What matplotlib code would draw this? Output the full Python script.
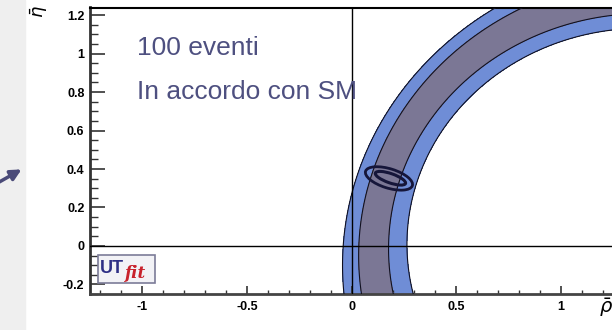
# Libraries import
import numpy as np
import matplotlib
matplotlib.use('Agg')
import matplotlib.pyplot as plt
from matplotlib.patches import Ellipse, Rectangle, FancyArrowPatch
from matplotlib.ticker import MultipleLocator

plt.rcParams['font.family'] = ['Liberation Sans', 'DejaVu Sans']

# Band boundaries (circle arcs):
# outer-left, inner-left, inner-right, outer-right
band_cx = [1.550, 1.488, 1.401, 1.389]
band_cy = [-0.101, -0.051, -0.015, 0.008]
band_r = [1.593, 1.454, 1.224, 1.124]

# 100-event fit contours: centre x, centre y, width, height, angle
fit_x = [0.179, 0.186]
fit_y = [0.351, 0.352]
fit_w = [0.236, 0.154]
fit_h = [0.100, 0.048]
fit_angle = [-19, -21]

x_ticks = [-1, -0.5, 0, 0.5, 1]
x_labels = ['-1', '-0.5', '0', '0.5', '1']
y_ticks = [-0.2, 0, 0.2, 0.4, 0.6, 0.8, 1, 1.2]
y_labels = ['-0.2', '0', '0.2', '0.4', '0.6', '0.8', '1', '1.2']

text_lines = ['100 eventi', 'In accordo con SM']

# Figure
fig = plt.figure(figsize=(6.12, 3.30), dpi=100)
fig.patch.set_facecolor('white')
fig.add_artist(Rectangle((0, 0), 25 / 612, 1, transform=fig.transFigure,
                         color='#efefef', zorder=0))

ax = fig.add_axes([90 / 612, 1 - 294 / 330, 1 - 90 / 612, 286.5 / 330])
ax.set_xlim(-1.25, 1.245)
ax.set_ylim(-0.25, 1.24)

# Bands
xx, yy = np.meshgrid(np.linspace(-1.3, 1.3, 1200), np.linspace(-0.3, 1.3, 800))
dist = [np.hypot(xx - cx, yy - cy) for cx, cy in zip(band_cx, band_cy)]
outer = np.minimum(band_r[0] - dist[0], dist[3] - band_r[3])
inner = np.minimum(band_r[1] - dist[1], dist[2] - band_r[2])
ax.contourf(xx, yy, outer, levels=[0, 10], colors=['#6f8dd6'], zorder=1)
ax.contourf(xx, yy, inner, levels=[0, 10], colors=['#7b7795'], zorder=2)
for d, r in zip(dist, band_r):
    ax.contour(xx, yy, d - r, levels=[0], colors=['#101020'], linewidths=0.8, zorder=3)

# Axes lines through origin
ax.axvline(0, color='black', lw=1, zorder=4)
ax.axhline(0, color='black', lw=1, zorder=4)

# Fit contours
for x, y, w, h, a, lw in zip(fit_x, fit_y, fit_w, fit_h, fit_angle, [2.0, 2.2]):
    ax.add_patch(Ellipse((x, y), w, h, angle=a, fill=False,
                         edgecolor='#16163a', lw=lw, zorder=5))

# Text
ax.text(-1.024, 1.03, text_lines[0], fontsize=19, color='#4e5080',
        va='center', ha='left', zorder=6)
ax.text(-1.024, 0.80, text_lines[1], fontsize=19, color='#4e5080',
        va='center', ha='left', zorder=6)

# UTfit logo
ax.add_patch(Rectangle((0.0153, 0.039), 0.109, 0.0976, transform=ax.transAxes,
                       facecolor='#f2f2f6', edgecolor='#7c7c98', lw=1.2, zorder=6))
ax.text(0.019, 0.090, 'UT', transform=ax.transAxes, fontsize=13, fontweight='bold',
        color='#2e2f86', va='center', ha='left', zorder=7)
ax.text(0.067, 0.070, 'fit', transform=ax.transAxes, fontsize=12, fontweight='bold',
        fontstyle='italic', color='#c8222c', va='center', ha='left',
        family='DejaVu Serif', zorder=7)

# Ticks and spines
ax.set_xticks(x_ticks)
ax.set_xticklabels(x_labels)
ax.set_yticks(y_ticks)
ax.set_yticklabels(y_labels)
ax.xaxis.set_minor_locator(MultipleLocator(0.1))
ax.yaxis.set_minor_locator(MultipleLocator(0.05))
ax.tick_params(axis='y', which='major', direction='in', length=11, width=1.2,
               color='#333333', pad=4, labelsize=9)
ax.tick_params(axis='y', which='minor', direction='in', length=5.5, width=1.0,
               color='#333333')
ax.tick_params(axis='x', which='major', direction='in', length=6, width=1.2,
               color='#333333', pad=5, labelsize=9)
ax.tick_params(axis='x', which='minor', direction='in', length=3, width=1.0,
               color='#333333')
for lab in ax.get_xticklabels() + ax.get_yticklabels():
    lab.set_fontweight('bold')
ax.spines['left'].set_linewidth(2)
ax.spines['left'].set_color('#333333')
ax.spines['bottom'].set_linewidth(2)
ax.spines['bottom'].set_color('#444444')
ax.spines['top'].set_linewidth(1.5)
ax.spines['right'].set_visible(False)

# Axis labels
fig.text(39 / 612, 1 - 12 / 330, r'$\bar{\eta}$', rotation=90, fontsize=13,
         ha='center', va='center')
fig.text(606 / 612, 1 - 308 / 330, r'$\bar{\rho}$', fontsize=14,
         ha='center', va='center')

# Arrow
fig.add_artist(FancyArrowPatch((-6 / 612, 1 - 185 / 330), (24 / 612, 1 - 168 / 330),
                               transform=fig.transFigure, arrowstyle='-|>',
                               mutation_scale=16, lw=2.5, color='#4a4a78'))

fig.savefig('out.png', dpi=100)
